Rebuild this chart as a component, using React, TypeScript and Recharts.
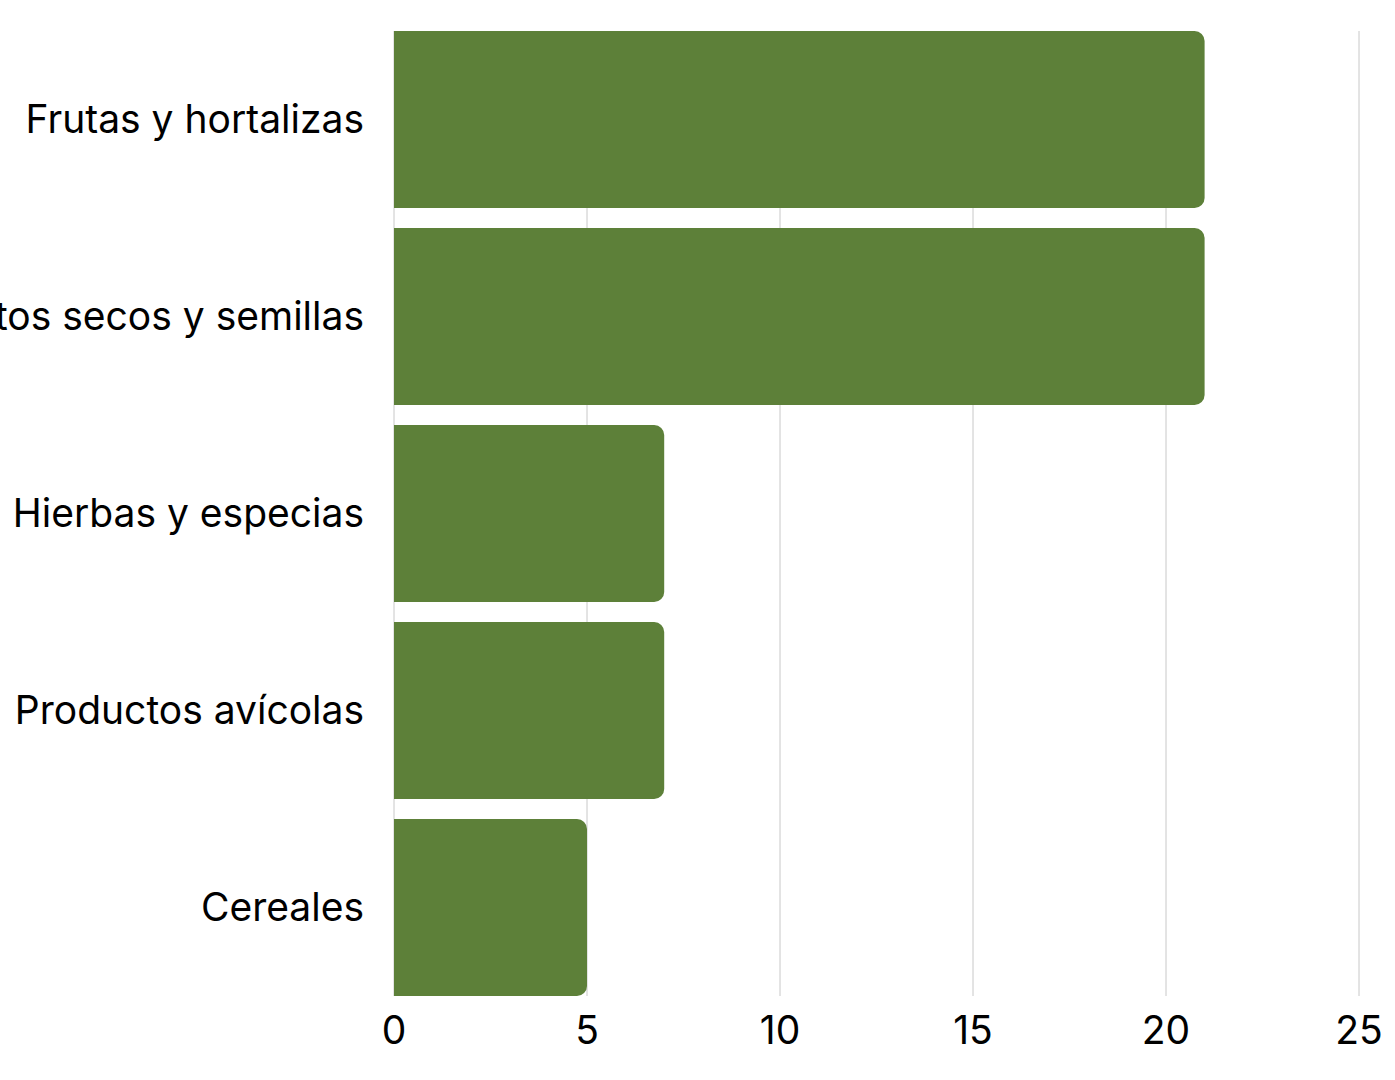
import { BarChart, Bar, XAxis, YAxis, CartesianGrid } from "recharts";

const categories = [
  "Frutas y hortalizas",
  "Frutos secos y semillas",
  "Hierbas y especias",
  "Productos avícolas",
  "Cereales",
];
const counts = [21, 21, 7, 7, 5];
const xTicks = [0, 5, 10, 15, 20, 25];

const data = categories.map((name, i) => ({ name, value: counts[i] }));

export default function App() {
  return (
    <div style={{ position: "absolute", left: 0, top: 0, fontFamily: "Inter" }}>
      <BarChart
        width={1395}
        height={1080}
        data={data}
        layout="vertical"
        margin={{ top: 21, right: 36, bottom: 0, left: 0 }}
        barCategoryGap={10}
      >
        {/* grid only spans the bars, not the band padding */}
        <CartesianGrid
          horizontal={false}
          stroke="#c8c8c8"
          strokeWidth={1}
          y={31}
          height={965}
        />
        <XAxis
          type="number"
          domain={[0, 25]}
          ticks={xTicks}
          axisLine={false}
          tickLine={false}
          tickMargin={4}
          height={74}
          tick={{ fill: "#000", fontSize: 39, fontFamily: "Inter" }}
        />
        <YAxis
          type="category"
          dataKey="name"
          width={394}
          axisLine={false}
          tickLine={false}
          tickMargin={24}
          tick={{ fill: "#000", fontSize: 39, fontFamily: "Inter" }}
        />
        <Bar
          dataKey="value"
          fill="#5d8039"
          radius={[0, 10, 10, 0]}
          isAnimationActive={false}
        />
      </BarChart>
    </div>
  );
}
